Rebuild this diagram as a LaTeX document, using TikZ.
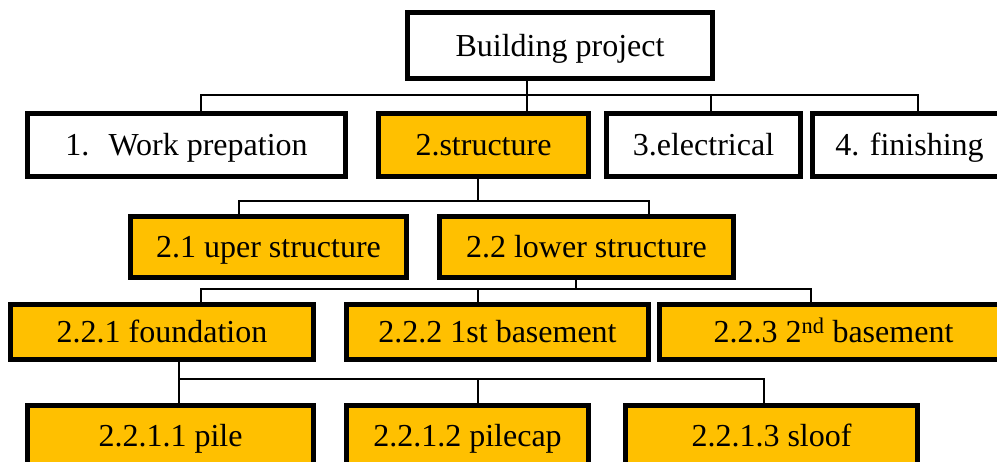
\documentclass[tikz,border=0pt]{standalone}
\usepackage{fontspec}
\setmainfont{Liberation Serif}
\definecolor{gold}{RGB}{255,192,0}
\tikzset{
  box/.style={draw=black, line width=5pt, rectangle, inner sep=0pt,
              font=\fontsize{32}{38}\selectfont, text=black,
              text height=22pt, text depth=0pt},
  plain/.style={box, fill=white},
  hot/.style={box, fill=gold},
  link/.style={draw=black, line width=1.4pt},
}
\begin{document}
\begin{tikzpicture}[x=1pt, y=-1pt]
  \useasboundingbox (0,0) rectangle (997,462);
  \clip (0,0) rectangle (997,462);

  % level 0
  \node[plain, minimum width=305pt, minimum height=66pt] (root) at (560,45.5) {Building project};

  % level 1
  \node[plain, minimum width=318pt, minimum height=63pt] (work)   at (186.5,145) {1.\hspace{0.6em}Work prepation};
  \node[hot,   minimum width=210pt, minimum height=63pt] (struct) at (483.5,145) {2.structure};
  \node[plain, minimum width=194pt, minimum height=63pt] (elec)   at (703.5,145) {3.electrical};
  \node[plain, minimum width=194pt, minimum height=63pt] (finish) at (909.5,145) {4. finishing};

  % level 2
  \node[hot, minimum width=276pt, minimum height=61pt] (upper) at (268.5,247) {2.1 uper structure};
  \node[hot, minimum width=294pt, minimum height=61pt] (lower) at (586.5,247) {2.2 lower structure};

  % level 3
  \node[hot, minimum width=303pt, minimum height=55pt] (found) at (162,332)   {2.2.1 foundation};
  \node[hot, minimum width=302pt, minimum height=55pt] (baseA) at (497.5,332) {2.2.2 1st basement};
  \node[hot, minimum width=348pt, minimum height=55pt] (baseB) at (833.5,332) {2.2.3 2\textsuperscript{nd} basement};

  % level 4
  \node[hot, minimum width=286pt, minimum height=61pt] (pile)    at (170.5,436) {2.2.1.1 pile};
  \node[hot, minimum width=242pt, minimum height=61pt] (pilecap) at (467.5,436) {2.2.1.2 pilecap};
  \node[hot, minimum width=292pt, minimum height=61pt] (sloof)   at (771.5,436) {2.2.1.3 sloof};

  % junction points of the buses
  \coordinate (a0) at (527,95);
  \coordinate (aW) at (201,95);
  \coordinate (aE) at (711,95);
  \coordinate (aF) at (918,95);

  \coordinate (b0) at (478,201);
  \coordinate (bU) at (239,201);
  \coordinate (bL) at (649,201);

  \coordinate (c0) at (576,289);
  \coordinate (cF) at (201,289);
  \coordinate (cA) at (478,289);
  \coordinate (cB) at (811,289);

  \coordinate (d0) at (179,379);
  \coordinate (dC) at (478,379);
  \coordinate (dS) at (764,379);

  % connectors
  \draw[link] (a0 |- root.south) -- (a0 |- struct.north);
  \draw[link] (aW |- work.north) -- (aW) -- (aF) -- (aF |- finish.north);
  \draw[link] (aE) -- (aE |- elec.north);

  \draw[link] (b0 |- struct.south) -- (b0);
  \draw[link] (bU |- upper.north) -- (bU) -- (bL) -- (bL |- lower.north);

  \draw[link] (c0 |- lower.south) -- (c0);
  \draw[link] (cF |- found.north) -- (cF) -- (cB) -- (cB |- baseB.north);
  \draw[link] (cA) -- (cA |- baseA.north);

  \draw[link] (d0 |- found.south) -- (d0 |- pile.north);
  \draw[link] (d0) -- (dS) -- (dS |- sloof.north);
  \draw[link] (dC) -- (dC |- pilecap.north);
\end{tikzpicture}
\end{document}
